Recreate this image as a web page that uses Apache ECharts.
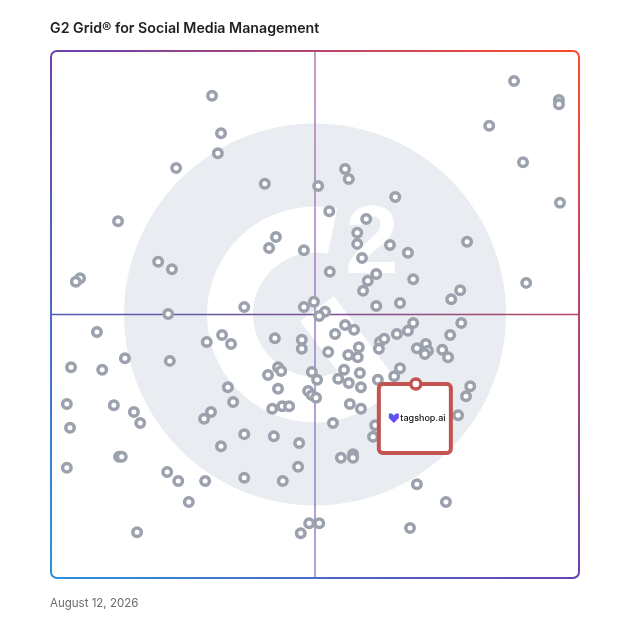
<!DOCTYPE html>
<html><head><meta charset="utf-8">
<script src="https://cdn.jsdelivr.net/npm/echarts@6/dist/echarts.min.js"></script>
<style>html,body{margin:0;padding:0;background:#fff}#c{width:628px;height:628px}</style>
</head><body><div id="c"></div>
<script>
const titleText = 'G2 Grid® for Social Media Management';
const dateText = 'August 12, 2026';

// Satisfaction (x, 0-100) and Market Presence (y, 0-100) of each product
const satisfaction = [
 30.5,32.2,31.6,23.7,40.5,12.7,42.6,41.3,47.9,20.3,22.9,5.5,4.7,36.6,47.9,49.8,22.2,
 87.7,96.2,96.2,83.0,89.4,96.4,55.7,56.4,50.6,65.2,52.7,59.7,58.0,58.0,64.2,67.6,58.9,78.8,52.8,61.6,60.0,68.6,59.1,90.0,77.5,75.8,61.6,66.1,51.9,
 50.8,55.7,57.4,53.8,52.5,56.3,58.3,58.1,62.3,63.1,62.1,65.5,67.6,68.6,77.7,75.6,69.3,71.0,71.4,70.8,74.1,75.2,49.4,50.4,48.7,49.4,50.2,54.4,55.5,56.4,58.5,58.7,61.9,65.0,66.1,56.6,58.7,53.4,61.4,61.0,79.4,78.6,77.1,54.9,57.2,57.2,69.3,74.8,68.0,50.8,
 8.7,14.0,3.8,9.7,22.5,29.5,32.4,34.1,42.4,47.5,47.5,33.5,34.5,43.0,43.6,41.1,43.0,3.0,11.9,15.7,16.9,3.6,30.3,29.0,36.6,32.2,41.9,43.8,45.1,42.2,47.0,46.8,43.9,36.6,29.2,22.0,24.1,26.1,12.9,13.4,3.0,16.3,47.3,48.9
];
const marketPresence = [
 91.5,84.4,80.6,77.8,74.8,67.7,64.7,62.6,62.2,60.0,58.6,56.9,56.2,51.4,51.4,52.4,50.1,
 94.3,90.7,89.9,85.8,78.9,71.2,77.6,75.7,74.4,72.3,69.6,68.1,65.5,63.4,63.2,61.7,60.7,63.8,58.1,57.7,56.4,56.7,54.5,56.0,54.6,52.9,51.6,52.2,50.5,
 49.7,48.0,47.1,46.3,42.9,42.3,43.8,41.9,44.8,45.4,43.5,46.3,46.9,48.4,48.4,46.1,43.6,44.4,43.1,42.5,43.3,41.9,39.1,37.6,35.5,34.7,34.2,37.8,39.5,37.0,38.9,36.2,37.6,38.3,39.8,33.0,32.1,29.4,29.0,26.8,36.4,34.5,30.9,22.8,23.5,22.8,17.8,14.4,9.5,10.4,
 46.7,41.7,40.0,39.5,41.2,44.8,46.1,44.4,45.5,45.2,43.5,36.2,33.4,40.0,39.3,38.5,35.9,33.0,32.8,31.5,29.4,28.5,31.5,30.2,27.3,25.0,32.1,32.6,32.6,26.9,25.6,21.1,18.4,19.0,18.4,20.1,18.4,14.4,23.0,23.0,20.9,8.7,8.5,10.4
];

const highlightName = ['tagshop.ai'];
const highlightSatisfaction = [69.1];
const highlightPresence = [36.8];

const chart = echarts.init(document.getElementById('c'), null, {renderer: 'canvas'});
const pts = satisfaction.map((x, i) => [x, marketPresence[i]]);
const hl = highlightSatisfaction.map((x, i) => [x, highlightPresence[i]]);

chart.setOption({
  animation: false,
  grid: {left: 51, top: 51, right: 49, bottom: 50},
  xAxis: {type: 'value', min: 0, max: 100, show: false},
  yAxis: {type: 'value', min: 0, max: 100, show: false},
  series: [
    {type: 'scatter', data: pts, symbol: 'circle', symbolSize: 8.5, silent: true, z: 3,
     itemStyle: {color: '#ffffff', borderColor: '#9ba1ad', borderWidth: 3.5, opacity: 1}},
    {type: 'scatter', data: hl, symbol: 'circle', symbolSize: 10, silent: true, z: 10,
     itemStyle: {color: '#ffffff', borderColor: '#c25452', borderWidth: 3.4, opacity: 1}}
  ]
});

const tl = chart.convertToPixel({gridIndex: 0}, [0, 100]);
const br = chart.convertToPixel({gridIndex: 0}, [100, 0]);
const c = chart.convertToPixel({gridIndex: 0}, [50, 50]);
const h = chart.convertToPixel({gridIndex: 0}, hl[0]);
const W = br[0] - tl[0], H = br[1] - tl[1];
const k = W / 528;
const LG = echarts.graphic.LinearGradient;

chart.setOption({
  graphic: [
    // G2 watermark
    {type: 'circle', silent: true, z: 0, shape: {cx: c[0], cy: c[1], r: 191 * k}, style: {fill: '#e9ecf0'}},
    {type: 'sector', silent: true, z: 0, shape: {cx: c[0], cy: c[1], r0: 62 * k, r: 108 * k, startAngle: 0.72, endAngle: 4.92, clockwise: true}, style: {fill: '#ffffff'}},
    {type: 'line', silent: true, z: 0, shape: {x1: c[0] + 2 * k, y1: c[1] - 6 * k, x2: c[0] + 66 * k, y2: c[1] + 80 * k}, style: {stroke: '#ffffff', lineWidth: 42 * k}},
    {type: 'text', silent: true, z: 0, x: c[0] + 57 * k, y: c[1] - 68 * k,
     style: {text: '2', fill: '#ffffff', font: 'bold ' + (96 * k) + 'px "Liberation Sans", Arial, sans-serif', textAlign: 'center', textVerticalAlign: 'middle', align: 'center', verticalAlign: 'middle'}},
    // quadrant lines
    {type: 'line', silent: true, z: 1, shape: {x1: tl[0], y1: c[1], x2: br[0], y2: c[1]},
     style: {lineWidth: 1.5, stroke: new LG(tl[0], c[1], br[0], c[1], [{offset: 0, color: '#4f5db8'}, {offset: 0.5, color: '#7a4f99'}, {offset: 1, color: '#b64763'}], true)}},
    {type: 'line', silent: true, z: 1, shape: {x1: c[0], y1: tl[1], x2: c[0], y2: br[1]},
     style: {lineWidth: 1.5, stroke: new LG(c[0], tl[1], c[0], br[1], [{offset: 0, color: '#b27ab2'}, {offset: 1, color: '#8b86d3'}], true)}},
    // frame
    {type: 'rect', silent: true, z: 1, shape: {x: tl[0], y: tl[1], width: W, height: H, r: 6},
     style: {fill: 'none', lineWidth: 2, stroke: new LG(tl[0], br[1], br[0], tl[1], [{offset: 0, color: '#2b93d9'}, {offset: 0.5, color: '#6a42b0'}, {offset: 1, color: '#ff4b2a'}], true)}},
    // callout box for highlighted product
    {type: 'rect', silent: true, z: 5, shape: {x: h[0] - 37, y: h[1], width: 72, height: 69, r: 4},
     style: {fill: '#ffffff', stroke: '#c25452', lineWidth: 4}},
    {type: 'polygon', silent: true, z: 6,
     shape: {points: [[h[0] - 27, h[1] + 29.5], [h[0] - 24, h[1] + 29.5], [h[0] - 22, h[1] + 31.5], [h[0] - 20, h[1] + 29.5], [h[0] - 17, h[1] + 29.5], [h[0] - 17, h[1] + 34], [h[0] - 22, h[1] + 39], [h[0] - 27, h[1] + 34]]},
     style: {fill: new LG(h[0] - 27, h[1] + 30, h[0] - 17, h[1] + 39, [{offset: 0, color: '#3d63f2'}, {offset: 1, color: '#8a3cf0'}], true)}},
    {type: 'text', silent: true, z: 6, x: h[0] - 15.5, y: h[1] + 34.5,
     style: {text: highlightName[0], fill: '#111111', font: '500 9px Inter, "Noto Sans", sans-serif', textAlign: 'left', textVerticalAlign: 'middle', align: 'left', verticalAlign: 'middle'}},
    // title and date
    {type: 'text', silent: true, z: 6, x: 50, y: 29,
     style: {text: titleText, fill: '#1f1f1f', font: '600 14.2px Inter, "Noto Sans", sans-serif', textAlign: 'left', textVerticalAlign: 'middle', align: 'left', verticalAlign: 'middle'}},
    {type: 'text', silent: true, z: 6, x: 50, y: 604,
     style: {text: dateText, fill: '#6b6b6b', font: '11.5px Inter, "Noto Sans", sans-serif', textAlign: 'left', textVerticalAlign: 'middle', align: 'left', verticalAlign: 'middle'}}
  ]
});
</script>
</body></html>
